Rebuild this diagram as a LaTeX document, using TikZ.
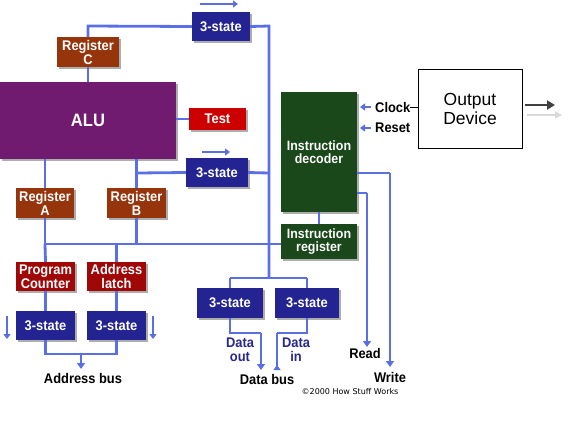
\documentclass[tikz,border=0pt]{standalone}
\usepackage{fontspec}
\setmainfont{Liberation Sans}[FakeStretch=0.92]
\newfontfamily\outfont{Liberation Sans}
\newfontfamily\cpfont{DejaVu Sans}
\usetikzlibrary{arrows.meta,shadows}
\definecolor{tsblue}{RGB}{35,35,145}
\definecolor{wire}{RGB}{90,110,230}
\definecolor{alupurple}{RGB}{112,26,112}
\definecolor{regbrown}{RGB}{150,52,12}
\definecolor{pcred}{RGB}{160,8,8}
\definecolor{testred}{RGB}{205,0,0}
\definecolor{decgreen}{RGB}{26,72,26}
\definecolor{dtext}{RGB}{40,40,140}
\tikzset{
  box/.style={inner sep=0pt, align=center, text=white,
    font=\fontsize{14}{14}\selectfont\bfseries,
    drop shadow={shadow xshift=2pt, shadow yshift=-2pt, fill=black!40, opacity=0.8}},
  tsbox/.style={box, fill=tsblue},
  regbox/.style={box, fill=regbrown},
  pcbox/.style={box, fill=pcred},
  decbox/.style={box, fill=decgreen},
  wireline/.style={draw=wire, line width=2.8pt},
  wirearrow/.style={draw=wire, line width=2.8pt, -{Triangle[length=6pt,width=8pt]}},
  smallarrow/.style={draw=wire, line width=2pt, -{Triangle[length=5pt,width=7pt]}},
  lbl/.style={font=\fontsize{14}{14}\selectfont\bfseries, inner sep=0pt, align=center},
  dlbl/.style={lbl, text=dtext},
}
\begin{document}
\begin{tikzpicture}[x=1pt,y=-1pt]
\useasboundingbox (0,0) rectangle (576,432);
% nodes
\node[tsbox, minimum width=58pt, minimum height=29pt] (ts1) at (221,26.5) {3-state};
\node[regbox, minimum width=62pt, minimum height=30pt] (regC) at (88,52) {Register\\C};
\node[box, fill=alupurple, minimum width=176pt, minimum height=77pt, font=\fontsize{18}{18}\selectfont\bfseries] (alu) at (88,120.5) {ALU};
\node[box, fill=testred, minimum width=57pt, minimum height=22pt] (test) at (217.5,119) {Test};
\node[tsbox, minimum width=62pt, minimum height=29pt] (ts2) at (217,172.5) {3-state};
\node[regbox, minimum width=58pt, minimum height=30pt] (regA) at (45,203) {Register\\A};
\node[regbox, minimum width=59pt, minimum height=30pt] (regB) at (136.5,203) {Register\\B};
\node[pcbox, minimum width=59pt, minimum height=29pt] (pc) at (45.5,276.5) {Program\\Counter};
\node[pcbox, minimum width=59pt, minimum height=29pt] (al) at (116.5,276.5) {Address\\latch};
\node[tsbox, minimum width=59pt, minimum height=29pt] (ts3) at (45.5,325.5) {3-state};
\node[tsbox, minimum width=59pt, minimum height=29pt] (ts4) at (116.5,325.5) {3-state};
\node[decbox, minimum width=76pt, minimum height=120pt, font=\fontsize{13.5}{13.5}\selectfont\bfseries] (dec) at (319,152) {Instruction\\decoder};
\node[decbox, minimum width=76pt, minimum height=35pt, font=\fontsize{13.5}{13.5}\selectfont\bfseries] (ir) at (319,241.5) {Instruction\\register};
\node[tsbox, minimum width=66pt, minimum height=30pt] (ts5) at (230,303) {3-state};
\node[tsbox, minimum width=64pt, minimum height=30pt] (ts6) at (307,303) {3-state};
\node[draw=black, line width=1pt, inner sep=0pt, minimum width=104pt, minimum height=79pt, align=center, font=\outfont\fontsize{17.5}{19}\selectfont] (out) at (470,108.5) {Output\\Device};
% coordinates
\coordinate (c1) at (88,26);
\coordinate (c2) at (269,26);
\coordinate (c3) at (269,278);
\coordinate (b1) at (137,173);
\coordinate (b2) at (269,173);
\coordinate (h1) at (45,244);
\coordinate (h2) at (136.5,244);
\coordinate (h3) at (116.5,244);
\coordinate (d1) at (230,278);
\coordinate (d2) at (307,278);
\coordinate (ab1) at (45.5,354);
\coordinate (ab2) at (116.5,354);
\coordinate (ab3) at (81,354);
\coordinate (ab4) at (81,369);
\coordinate (do1) at (230,333);
\coordinate (do2) at (261,333);
\coordinate (do3) at (261,370);
\coordinate (di1) at (307,333);
\coordinate (di2) at (277,333);
\coordinate (di3) at (277,370);
\coordinate (w1) at (390,173);
\coordinate (w2) at (390,367);
\coordinate (r1) at (367,193);
\coordinate (r2) at (367,347);
% wires
\draw[wireline] (regC.north) -- (c1) -- (ts1.west);
\draw[wireline] (ts1.east) -- (c2) -- (c3);
\draw[wireline] (regC.south) -- (regC.south |- alu.north);
\draw[wireline] (alu.east |- test.west) -- (test.west);
\draw[wireline] (regB.north |- alu.south) -- (regB.north);
\draw[wireline] (b1) -- (ts2.west);
\draw[wireline] (ts2.east) -- (b2);
\draw[wireline] (regA.north |- alu.south) -- (regA.north);
\draw[wireline] (regA.south) -- (h1);
\draw[wireline] (h1) -- (h1 -| ir.west);
\draw[wireline] (regB.south) -- (h2);
\draw[wireline] (h3) -- (al.north);
\draw[wireline] (h1) -- (pc.north);
\draw[wireline] (pc.south) -- (ts3.north);
\draw[wireline] (al.south) -- (ts4.north);
\draw[wireline] (ts3.south) -- (ab1) -- (ab2) -- (ts4.south);
\draw[wirearrow] (ab3) -- (ab4);
\draw[wireline] (d1) -- (d2);
\draw[wireline] (d1) -- (ts5.north);
\draw[wireline] (d2) -- (ts6.north);
\draw[wireline] (ts5.south) -- (do1) -- (do2);
\draw[wirearrow] (do2) -- (do3);
\draw[wireline] (ts6.south) -- (di1) -- (di2);
\draw[wireline, -{Triangle[length=5pt,width=7pt,reversed]}] (di2) -- (di3);
\draw[wireline] (dec.south) -- (ir.north);
\draw[wireline] (dec.east |- w1) -- (w1);
\draw[wirearrow] (w1) -- (w2);
\draw[wireline] (dec.east |- r1) -- (r1);
\draw[wirearrow] (r1) -- (r2);
% direction arrows
\coordinate (a1s) at (200,4); \coordinate (a1e) at (238,4);
\coordinate (a2s) at (202,152); \coordinate (a2e) at (230,152);
\coordinate (a3s) at (7,316); \coordinate (a3e) at (7,339);
\coordinate (a4s) at (153,316); \coordinate (a4e) at (153,339);
\draw[smallarrow] (a1s) -- (a1e);
\draw[smallarrow] (a2s) -- (a2e);
\draw[smallarrow] (a3s) -- (a3e);
\draw[smallarrow] (a4s) -- (a4e);
% clock / reset
\node[lbl, anchor=west] (clk) at (375,107) {Clock};
\node[lbl, anchor=west] (rst) at (375,128) {Reset};
\coordinate (ck1) at (371,107); \coordinate (ck2) at (360,107);
\coordinate (rs1) at (371,128); \coordinate (rs2) at (360,128);
\draw[draw=wire, line width=1.8pt, -{Triangle[length=5pt,width=7pt]}] (ck1) -- (ck2);
\draw[draw=wire, line width=1.8pt, -{Triangle[length=5pt,width=7pt]}] (rs1) -- (rs2);
\draw[black, line width=0.8pt] (clk.east) -- (clk.east -| out.west);
% output arrows
\coordinate (o1) at (525,105); \coordinate (o2) at (555,105);
\coordinate (o3) at (527,115); \coordinate (o4) at (562,115);
\draw[black!75, line width=2pt, -{Triangle[length=8pt,width=9pt]}] (o1) -- (o2);
\draw[black!15, line width=1.5pt, -{Triangle[length=7pt,width=7pt]}] (o3) -- (o4);
% labels
\node[dlbl] (dout) at (240,350) {Data\\out};
\node[dlbl] (din) at (296,350) {Data\\in};
\node[lbl] (abus) at (83,378) {Address bus};
\node[lbl] (dbus) at (267,379) {Data bus};
\node[lbl] (read) at (365,353) {Read};
\node[lbl] (write) at (390,377) {Write};
\node[inner sep=0pt, font=\cpfont\fontsize{8}{9}\selectfont] (copy) at (350,392) {©2000 How Stuff Works};
\end{tikzpicture}
\end{document}
